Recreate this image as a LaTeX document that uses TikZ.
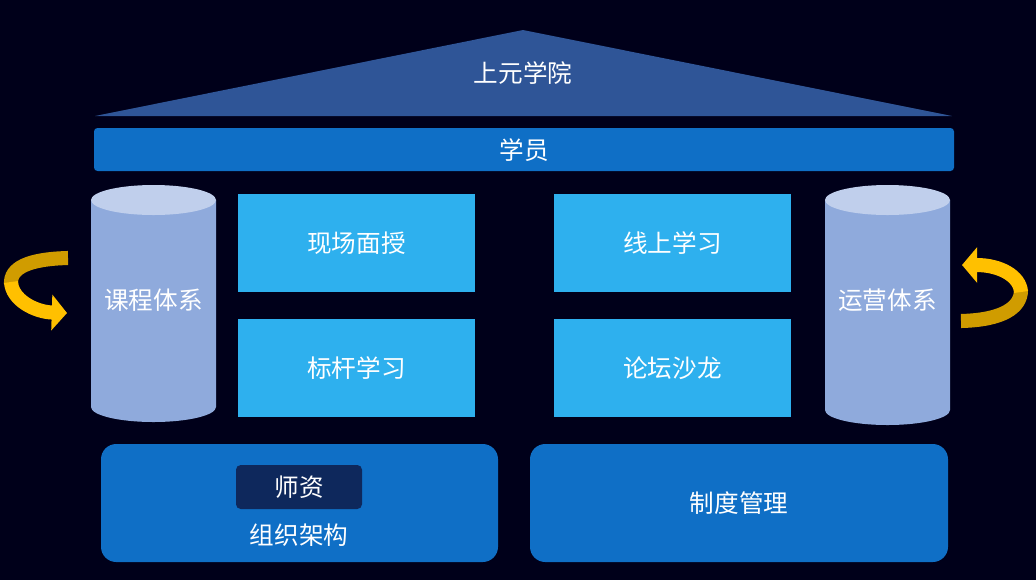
\documentclass[tikz,border=0pt]{standalone}
\usepackage{fontspec}
\setmainfont{Noto Sans CJK SC}
\usetikzlibrary{arrows.meta}
\definecolor{bgnavy}{RGB}{0,0,26}
\definecolor{roofblue}{RGB}{47,85,151}
\definecolor{barblue}{RGB}{15,111,198}
\definecolor{boxcyan}{RGB}{46,176,238}
\definecolor{cylbody}{RGB}{143,170,220}
\definecolor{cyltop}{RGB}{192,207,236}
\definecolor{darkbox}{RGB}{14,40,92}
\definecolor{golddark}{RGB}{208,156,0}
\definecolor{goldlight}{RGB}{255,192,0}
\begin{document}
\begin{tikzpicture}[x=0.03cm,y=-0.03cm,
                    label/.style={text=white,font=\fontsize{21}{24}\selectfont},
                    tile/.style={fill=boxcyan,draw=none},
                    base/.style={fill=barblue,draw=none,rounded corners=13pt},
                    band/.style={line width=12pt},
                    >={Triangle[length=13pt,width=30pt]}]
                    \fill[bgnavy] (0,0) rectangle (1036,580);
                    \useasboundingbox (0,0) rectangle (1036,580);
                    % roof and bar
                    \fill[roofblue] (95,116) -- (523,30) -- (952,116) -- cycle;
                    \node[label] (school) at (523,73) {上元学院};
                    \fill[barblue,rounded corners=3pt] (94,128) rectangle (954,171);
                    \node[label] (student) at (524,150) {学员};
                    % cylinders
                    \foreach \xc/\yb/\name/\txt in {153.5/407/course/课程体系,887.5/410/ops/运营体系}{
                      \fill[cylbody] (\xc-62.5,200) -- (\xc-62.5,\yb) arc[start angle=180,end angle=0,x radius=62.5,y radius=15] -- (\xc+62.5,200) -- cycle;
                      \fill[cyltop] (\xc,200) ellipse[x radius=62.5,y radius=15];
                      \node[label] (\name) at (\xc,300) {\txt};
                    }
                    % tiles
                    \foreach \xa/\ya/\name/\txt in {238/194/live/现场面授,238/319/bench/标杆学习,554/194/online/线上学习,554/319/forum/论坛沙龙}{
                      \fill[tile] (\xa,\ya) rectangle ++(237,98);
                      \node[label] (\name) at (\xa+118.5,\ya+49) {\txt};
                    }
                    % foundation
                    \fill[base] (101,444) rectangle (498,562);
                    \fill[base] (530,444) rectangle (948,562);
                    \fill[darkbox,rounded corners=4pt] (236,465) rectangle (362,509);
                    \node[label] (teacher) at (299,487) {师资};
                    \node[label] (org) at (299,535) {组织架构};
                    \node[label] (rules) at (739,503) {制度管理};
                    % side arrows
                    \draw[band,golddark] (68,258) .. controls (28,259) and (10,268) .. (11,284);
                    \draw[band,goldlight,->] (11,282) .. controls (12,300) and (35,312) .. (67,313);
                    \draw[band,golddark] (961,321) .. controls (1002,320) and (1021,308) .. (1021,290);
                    \draw[band,goldlight,->] (1021,292) .. controls (1020,276) and (1000,265) .. (962,265);
                   \end{tikzpicture}
\end{document}
